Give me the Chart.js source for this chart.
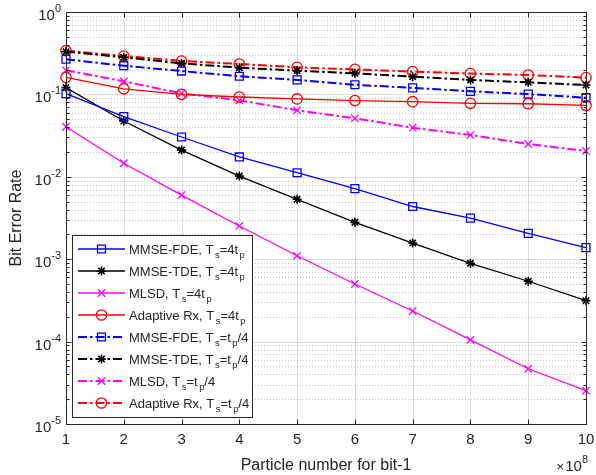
<!DOCTYPE html>
<html><head><meta charset="utf-8">
<script src="https://cdn.jsdelivr.net/npm/chart.js@4/dist/chart.umd.min.js"></script>
<style>html,body{margin:0;padding:0;background:#fff}#wrap{width:596px;height:475px;position:relative}</style>
</head><body><div id="wrap"><canvas id="c"></canvas></div>
<script>
// ---- data ----
const particles = [1, 2, 3, 4, 5, 6, 7, 8, 9, 10];
const fde4tp   = [0.102, 0.0537, 0.0304, 0.0174, 0.0112, 0.00718, 0.00436, 0.00315, 0.00206, 0.00138];
const tde4tp   = [0.121, 0.0475, 0.0211, 0.0102, 0.00533, 0.0028, 0.00157, 0.00089, 0.00054, 0.000314];
const mlsd4tp  = [0.0405, 0.0146, 0.0060, 0.00253, 0.0011, 0.0005, 0.000235, 0.000105, 0.0000468, 0.0000254];
const adapt4tp = [0.161, 0.117, 0.100, 0.093, 0.088, 0.084, 0.0815, 0.078, 0.077, 0.0737];
const fdeQtp   = [0.267, 0.223, 0.192, 0.166, 0.150, 0.131, 0.120, 0.109, 0.101, 0.0912];
const tdeQtp   = [0.330, 0.282, 0.238, 0.211, 0.194, 0.180, 0.164, 0.150, 0.140, 0.130];
const mlsdQtp  = [0.196, 0.144, 0.103, 0.0848, 0.0641, 0.0513, 0.0394, 0.0322, 0.025, 0.0206];
const adaptQtp = [0.339, 0.292, 0.254, 0.234, 0.213, 0.201, 0.189, 0.179, 0.172, 0.160];
const seriesLabels = [
  'MMSE-FDE, T_s=4t_p', 'MMSE-TDE, T_s=4t_p', 'MLSD, T_s=4t_p', 'Adaptive Rx, T_s=4t_p',
  'MMSE-FDE, T_s=t_p/4', 'MMSE-TDE, T_s=t_p/4', 'MLSD, T_s=t_p/4', 'Adaptive Rx, T_s=t_p/4'
];
const xTickValues = [1, 2, 3, 4, 5, 6, 7, 8, 9, 10];
const yTickExponents = [0, -1, -2, -3, -4, -5];
const xAxisLabel = 'Particle number for bit-1';
const yAxisLabel = 'Bit Error Rate';
const xMultiplierExp = '8';

// ---- styles ----
const AX = '#262626';
const FONT = '"Liberation Sans", Arial, Helvetica, sans-serif';
const DASHDOT = [9, 3, 2.5, 3];
const styles = [
  {c: '#0000ff', p: 'rect', r: 5.6, w: 1.3, d: []},
  {c: '#000000', p: 'star', r: 4.5, w: 1.3, d: []},
  {c: '#ff00ff', p: 'crossRot', r: 5.2, w: 1.3, d: []},
  {c: '#ff0000', p: 'circle', r: 5.2, w: 1.3, d: []},
  {c: '#0000ff', p: 'rect', r: 5.6, w: 2, d: DASHDOT},
  {c: '#000000', p: 'star', r: 4.5, w: 2, d: DASHDOT},
  {c: '#ff00ff', p: 'crossRot', r: 5.2, w: 2, d: DASHDOT},
  {c: '#ff0000', p: 'circle', r: 5.2, w: 2, d: DASHDOT}
];
const seriesData = [fde4tp, tde4tp, mlsd4tp, adapt4tp, fdeQtp, tdeQtp, mlsdQtp, adaptQtp];

const datasets = seriesData.map((arr, i) => ({
  label: seriesLabels[i],
  data: arr.map((v, k) => ({x: particles[k], y: v})),
  borderColor: styles[i].c,
  backgroundColor: 'rgba(0,0,0,0)',
  borderWidth: styles[i].w,
  borderDash: styles[i].d,
  pointStyle: styles[i].p,
  pointRadius: styles[i].r,
  pointBorderWidth: styles[i].p === 'star' ? 1.6 : 1.3,
  pointBorderColor: styles[i].c,
  pointBackgroundColor: 'rgba(0,0,0,0)',
  tension: 0,
  clip: false
}));

// rich text: "_x" = subscript char, "^{..}" = superscript
function parseRich(str) {
  const parts = [];
  for (let i = 0; i < str.length; i++) {
    const ch = str[i];
    if (ch === '_') { parts.push({t: str[i + 1], k: 'sub'}); i++; }
    else if (ch === '^') {
      const end = str.indexOf('}', i);
      parts.push({t: str.slice(i + 2, end), k: 'sup'}); i = end;
    } else {
      const last = parts[parts.length - 1];
      if (last && last.k === 'n') last.t += ch; else parts.push({t: ch, k: 'n'});
    }
  }
  return parts;
}
function richWidth(ctx, parts, size) {
  let w = 0;
  for (const p of parts) {
    ctx.font = (p.k === 'n' ? size : size * 0.72) + 'px ' + FONT;
    w += ctx.measureText(p.t).width + (p.k === 'sub' ? 1.5 : 0);
  }
  return w;
}
function drawRich(ctx, str, x, y, size, align) {
  const parts = parseRich(str);
  let cx = x;
  if (align === 'right') cx = x - richWidth(ctx, parts, size);
  else if (align === 'center') cx = x - richWidth(ctx, parts, size) / 2;
  ctx.textAlign = 'left';
  ctx.textBaseline = 'alphabetic';
  for (const p of parts) {
    if (p.k === 'n') {
      ctx.font = size + 'px ' + FONT;
      ctx.fillText(p.t, cx, y);
      cx += ctx.measureText(p.t).width;
    } else if (p.k === 'sub') {
      ctx.font = (size * 0.72) + 'px ' + FONT;
      cx += 1.5;
      ctx.fillText(p.t, cx, y + size * 0.38);
      cx += ctx.measureText(p.t).width;
    } else {
      ctx.font = (size * 0.72) + 'px ' + FONT;
      ctx.fillText(p.t, cx, y - size * 0.45);
      cx += ctx.measureText(p.t).width;
    }
  }
}

function marker(ctx, st, x, y) {
  ctx.save();
  ctx.strokeStyle = st.c;
  ctx.fillStyle = 'rgba(0,0,0,0)';
  ctx.lineWidth = st.p === 'star' ? 1.6 : 1.3;
  ctx.setLineDash([]);
  if (Chart.helpers && Chart.helpers.drawPoint) {
    Chart.helpers.drawPoint(ctx, {pointStyle: st.p, radius: st.r, rotation: 0, borderWidth: ctx.lineWidth}, x, y);
  }
  ctx.restore();
}

const decor = {
  id: 'decor',
  beforeDatasetsDraw(chart) {
    const ctx = chart.ctx, a = chart.chartArea;
    const xs = chart.scales.x, ys = chart.scales.y;
    ctx.save();
    // minor horizontal grid (dotted)
    ctx.strokeStyle = 'rgba(38,38,38,0.28)';
    ctx.lineWidth = 1;
    ctx.setLineDash([1, 2]);
    for (let e = -5; e < 0; e++) {
      for (let m = 2; m <= 9; m++) {
        const py = Math.round(ys.getPixelForValue(m * Math.pow(10, e))) + 0.5;
        ctx.beginPath(); ctx.moveTo(a.left, py); ctx.lineTo(a.right, py); ctx.stroke();
      }
    }
    // major grid
    ctx.setLineDash([]);
    ctx.strokeStyle = 'rgba(38,38,38,0.15)';
    for (const e of yTickExponents) {
      const py = Math.round(ys.getPixelForValue(Math.pow(10, e))) + 0.5;
      ctx.beginPath(); ctx.moveTo(a.left, py); ctx.lineTo(a.right, py); ctx.stroke();
    }
    for (const v of xTickValues) {
      const px = Math.round(xs.getPixelForValue(v)) + 0.5;
      ctx.beginPath(); ctx.moveTo(px, a.top); ctx.lineTo(px, a.bottom); ctx.stroke();
    }
    ctx.restore();
  },
  afterDatasetsDraw(chart) {
    const ctx = chart.ctx, a = chart.chartArea;
    const xs = chart.scales.x, ys = chart.scales.y;
    ctx.save();
    ctx.setLineDash([]);
    ctx.strokeStyle = AX;
    ctx.lineWidth = 1;
    const L = Math.round(a.left) + 0.5, R = Math.round(a.right) + 0.5;
    const T = Math.round(a.top) + 0.5, B = Math.round(a.bottom) + 0.5;
    // ticks
    ctx.beginPath();
    for (const v of xTickValues) {
      const px = Math.round(xs.getPixelForValue(v)) + 0.5;
      ctx.moveTo(px, B); ctx.lineTo(px, B - 5);
      ctx.moveTo(px, T); ctx.lineTo(px, T + 5);
    }
    for (let e = -5; e <= 0; e++) {
      for (let m = 1; m <= 9; m++) {
        if (e === 0 && m > 1) break;
        const py = Math.round(ys.getPixelForValue(m * Math.pow(10, e))) + 0.5;
        const len = m === 1 ? 5 : 3;
        ctx.moveTo(L, py); ctx.lineTo(L + len, py);
        ctx.moveTo(R, py); ctx.lineTo(R - len, py);
      }
    }
    ctx.stroke();
    // box
    ctx.strokeRect(L, T, R - L, B - T);

    // tick labels
    ctx.fillStyle = AX;
    ctx.font = '15px ' + FONT;
    ctx.textAlign = 'center';
    ctx.textBaseline = 'top';
    for (const v of xTickValues) {
      ctx.fillText(String(v), xs.getPixelForValue(v), a.bottom + 8);
    }
    for (const e of yTickExponents) {
      const py = ys.getPixelForValue(Math.pow(10, e));
      const expStr = e === 0 ? '0' : '-' + Math.abs(e);
      ctx.font = '11px ' + FONT;
      const ew = ctx.measureText(expStr).width;
      ctx.textAlign = 'right';
      ctx.textBaseline = 'alphabetic';
      ctx.fillText(expStr, a.left - 5, py);
      ctx.font = '15px ' + FONT;
      ctx.fillText('10', a.left - 5 - ew, py + 8);
    }
    // axis titles
    ctx.font = '16px ' + FONT;
    ctx.textAlign = 'center';
    ctx.textBaseline = 'alphabetic';
    ctx.fillText(xAxisLabel, (a.left + a.right) / 2, 470);
    ctx.save();
    ctx.translate(21, (a.top + a.bottom) / 2);
    ctx.rotate(-Math.PI / 2);
    ctx.fillText(yAxisLabel, 0, 0);
    ctx.restore();
    // x multiplier
    ctx.font = '11px ' + FONT;
    ctx.textAlign = 'right';
    const mw = ctx.measureText(xMultiplierExp).width;
    ctx.fillText(xMultiplierExp, a.right + 2, 463);
    ctx.font = '15px ' + FONT;
    ctx.fillText('10', a.right + 2 - mw, 471);
    const tw = ctx.measureText('10').width;
    ctx.font = '13px ' + FONT;
    ctx.fillText('\u00d7', a.right + 1 - mw - tw, 471);

    // legend
    const bx = 72.5, by = 235.5, bw = 180, bh = 182;
    ctx.fillStyle = '#ffffff';
    ctx.fillRect(bx, by, bw, bh);
    ctx.strokeStyle = AX;
    ctx.lineWidth = 1;
    ctx.strokeRect(bx, by, bw, bh);
    seriesLabels.forEach((lab, i) => {
      const st = styles[i];
      const cy = 249 + 22 * i;
      ctx.save();
      ctx.strokeStyle = st.c;
      ctx.lineWidth = st.w;
      ctx.setLineDash(st.d);
      ctx.beginPath(); ctx.moveTo(78, cy); ctx.lineTo(125, cy); ctx.stroke();
      ctx.restore();
      marker(ctx, st, 101.5, cy);
      ctx.fillStyle = AX;
      drawRich(ctx, lab, 129, cy + 4.5, 13, 'left');
    });
    ctx.restore();
  }
};

new Chart(document.getElementById('c'), {
  type: 'line',
  data: {datasets},
  options: {
    responsive: true,
    maintainAspectRatio: false,
    animation: false,
    events: [],
    layout: {padding: {left: 66, right: 10, top: 12, bottom: 51}},
    plugins: {legend: {display: false}, tooltip: {enabled: false}, title: {display: false}},
    scales: {
      x: {type: 'linear', min: 1, max: 10, display: false},
      y: {type: 'logarithmic', min: 1e-5, max: 1, display: false}
    }
  },
  plugins: [decor]
});
</script>
</body></html>
